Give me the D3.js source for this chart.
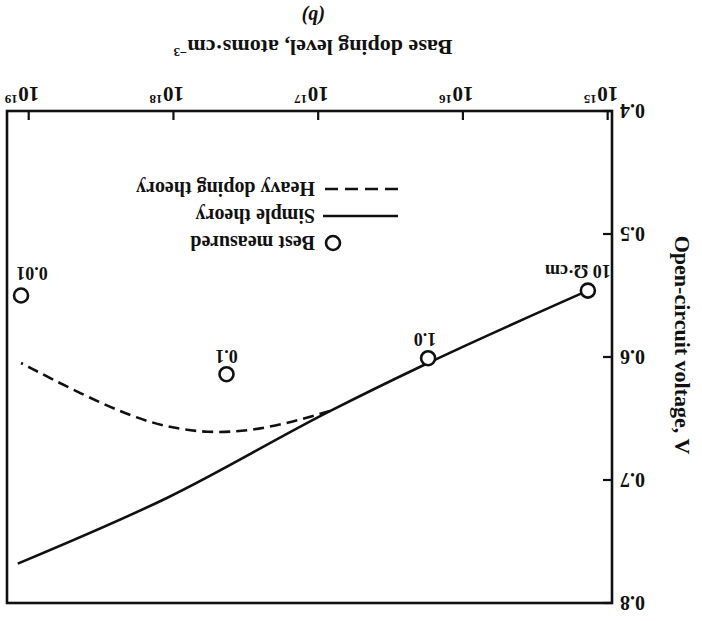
<!DOCTYPE html>
<html>
<head>
<meta charset="utf-8">
<script src="https://cdn.jsdelivr.net/npm/d3@7"></script>
<style>
  html, body { margin: 0; padding: 0; background: #fff; }
  svg { display: block; }
  text { font-family: "Liberation Serif", "Times New Roman", serif; fill: #111; }
</style>
</head>
<body>
<svg id="chart" width="702" height="621"></svg>
<script>
// ---- data ----
const measuredN = [1.37e15, 1.74e16, 4.3e17, 1.13e19];
const measuredV = [0.546, 0.601, 0.614, 0.550];
const measuredLabels = ["10 Ω·cm", "1.0", "0.1", "0.01"];

const simpleN = [1.37e15, 1.8e16, 8.3e16, 1.11e18, 1.19e19];
const simpleV = [0.546, 0.6057, 0.644, 0.7146, 0.768];

const heavyN = [8.3e16, 1.5e17, 2.96e17, 5.87e17, 1.11e18, 1.9e18, 4.23e18, 1.13e19];
const heavyV = [0.6439, 0.6528, 0.6602, 0.6618, 0.6569, 0.6488, 0.6309, 0.6049];

const xTickExps = [15, 16, 17, 18, 19];
const yTicks = [0.4, 0.5, 0.6, 0.7, 0.8];
const legendItems = ["Best measured", "Simple theory", "Heavy doping theory"];

// ---- layout ----
const W = 702, H = 621;
const svg = d3.select("#chart");
const g = svg.append("g").attr("transform", `rotate(180 ${W / 2} ${H / 2})`);

const x = d3.scaleLog().domain([Math.pow(10, 14.97), Math.pow(10, 19.15)]).range([90, 695]);
const y = d3.scaleLinear().domain([0.4, 0.8]).range([510, 18]);

const [x0, x1] = x.range();
const [yb, yt] = y.range();

// frame
g.append("rect")
  .attr("x", x0).attr("y", yt)
  .attr("width", x1 - x0).attr("height", yb - yt)
  .attr("fill", "none").attr("stroke", "#111").attr("stroke-width", 2.6);

// x ticks (inward)
g.selectAll(".xt").data(xTickExps).enter().append("line")
  .attr("x1", d => x(Math.pow(10, d))).attr("x2", d => x(Math.pow(10, d)))
  .attr("y1", yb).attr("y2", yb - 9)
  .attr("stroke", "#111").attr("stroke-width", 2.2);

// x tick labels: "10" centred on tick, exponent as superscript
const xl = g.selectAll(".xl").data(xTickExps).enter().append("g");
xl.append("text")
  .attr("x", d => x(Math.pow(10, d)))
  .attr("y", yb + 24)
  .attr("text-anchor", "middle")
  .attr("font-size", 21).attr("font-weight", "bold")
  .text("10");
xl.append("text")
  .attr("x", d => x(Math.pow(10, d)) + 11)
  .attr("y", yb + 16)
  .attr("text-anchor", "start")
  .attr("font-size", 13).attr("font-weight", "bold")
  .text(d => d);

// y ticks (inward)
g.selectAll(".yt").data(yTicks).enter().append("line")
  .attr("x1", x0).attr("x2", x0 + 9)
  .attr("y1", d => y(d)).attr("y2", d => y(d))
  .attr("stroke", "#111").attr("stroke-width", 2.2);

g.selectAll(".yl").data(yTicks).enter().append("text")
  .attr("x", x0 - 8)
  .attr("y", d => y(d))
  .attr("dy", "0.35em")
  .attr("text-anchor", "end")
  .attr("font-size", 20).attr("font-weight", "bold")
  .text(d => d.toFixed(1));

// axis titles
g.append("text")
  .attr("transform", `translate(19, ${(yt + yb) / 2 + 12}) rotate(-90)`)
  .attr("dy", "0.35em")
  .attr("text-anchor", "middle")
  .attr("font-size", 22).attr("font-weight", "bold")
  .text("Open-circuit voltage, V");

const xt = g.append("text")
  .attr("x", 389).attr("y", 581)
  .attr("text-anchor", "middle")
  .attr("font-size", 22).attr("font-weight", "bold");
xt.append("tspan").text("Base doping level, atoms·cm");
xt.append("tspan").attr("dy", -8).attr("font-size", 13).text("−3");

g.append("text")
  .attr("x", 389).attr("y", 611)
  .attr("text-anchor", "middle")
  .attr("font-size", 20).attr("font-weight", "bold").attr("font-style", "italic")
  .text("(b)");

// curves
const line = d3.line().x(d => x(d[0])).y(d => y(d[1]));

g.append("path")
  .datum(d3.zip(simpleN, simpleV))
  .attr("d", line.curve(d3.curveMonotoneX))
  .attr("fill", "none").attr("stroke", "#111").attr("stroke-width", 2.6);

g.append("path")
  .datum(d3.zip(heavyN, heavyV))
  .attr("d", line.curve(d3.curveBasis))
  .attr("fill", "none").attr("stroke", "#111").attr("stroke-width", 2.6)
  .attr("stroke-dasharray", "11,6");

// measured points
const labelOff = [[10, 19], [3, 19], [0, 18], [-11, 22]];
const pts = d3.zip(measuredN, measuredV, measuredLabels);
g.selectAll(".pt").data(pts).enter().append("circle")
  .attr("cx", d => x(d[0])).attr("cy", d => y(d[1]))
  .attr("r", 7)
  .attr("fill", "#fff").attr("stroke", "#111").attr("stroke-width", 2.6);

g.selectAll(".pl").data(pts).enter().append("text")
  .attr("x", (d, i) => x(d[0]) + labelOff[i][0])
  .attr("y", (d, i) => y(d[1]) + labelOff[i][1])
  .attr("dy", "0.35em")
  .attr("text-anchor", "middle")
  .attr("font-size", 18).attr("font-weight", "bold")
  .text(d => d[2]);

// legend
const lg = g.append("g").attr("transform", "translate(304, 378)");
const rowH = 27;
lg.append("circle").attr("cx", 65).attr("cy", 0).attr("r", 7)
  .attr("fill", "#fff").attr("stroke", "#111").attr("stroke-width", 2.6);
lg.append("line").attr("x1", 0).attr("x2", 75).attr("y1", rowH).attr("y2", rowH)
  .attr("stroke", "#111").attr("stroke-width", 2.6);
lg.append("line").attr("x1", 0).attr("x2", 75).attr("y1", 2 * rowH).attr("y2", 2 * rowH)
  .attr("stroke", "#111").attr("stroke-width", 2.6).attr("stroke-dasharray", "13,7");
lg.selectAll(".lt").data(legendItems).enter().append("text")
  .attr("x", 83).attr("y", (d, i) => i * rowH)
  .attr("dy", "0.35em")
  .attr("font-size", 20).attr("font-weight", "bold")
  .text(d => d);
</script>
</body>
</html>
